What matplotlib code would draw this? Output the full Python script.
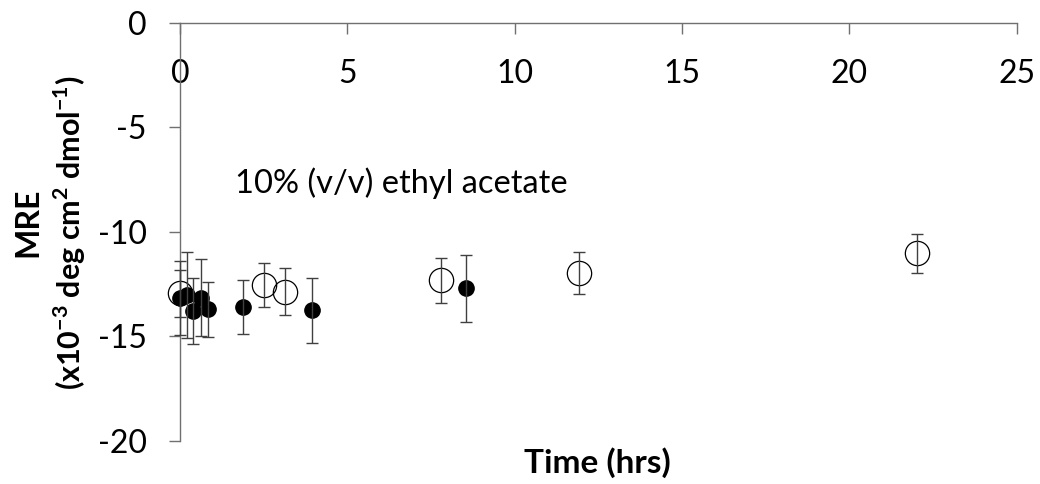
import matplotlib
matplotlib.use("Agg")
import matplotlib.pyplot as plt

# Kinetics of MRE in 10% (v/v) ethyl acetate
filled_t = [0, 0.2, 0.4, 0.62, 0.83, 1.87, 3.95, 8.54]
filled_mre = [-13.18, -13.03, -13.79, -13.15, -13.71, -13.59, -13.75, -12.71]
filled_err = [1.76, 2.06, 1.58, 1.84, 1.32, 1.28, 1.55, 1.6]

open_t = [0, 2.51, 3.14, 7.8, 11.93, 22.01]
open_mre = [-12.95, -12.55, -12.87, -12.31, -11.96, -11.03]
open_err = [1.12, 1.04, 1.13, 1.08, 1.0, 0.94]

x_ticks = [0, 5, 10, 15, 20, 25]
y_ticks = [-20, -15, -10, -5, 0]

plt.rcParams["font.family"] = "Lato"
plt.rcParams["axes.unicode_minus"] = False
plt.rcParams["mathtext.fontset"] = "custom"
plt.rcParams["mathtext.rm"] = "Lato"
plt.rcParams["mathtext.bf"] = "Lato:bold"

fig = plt.figure(figsize=(10.4, 4.84), dpi=100)
ax = fig.add_axes([0.1731, 0.0895, 0.8045, 0.863])

axis_col = "#707070"
bar_col = "#404040"

ax.plot(open_t, open_mre, "o", ms=17.5, mfc="none", mec="black", mew=0.9,
        zorder=2, clip_on=False)
ax.plot(filled_t, filled_mre, "o", ms=11, mfc="black", mec="black",
        zorder=3, clip_on=False)
ax.errorbar(open_t, open_mre, yerr=open_err, fmt="none", ecolor=bar_col,
            elinewidth=1, capsize=4, capthick=1, zorder=4, clip_on=False)
ax.errorbar(filled_t, filled_mre, yerr=filled_err, fmt="none", ecolor=bar_col,
            elinewidth=1, capsize=4, capthick=1, zorder=4, clip_on=False)

ax.set_xlim(0, 25)
ax.set_ylim(-20, 0)
ax.set_xticks(x_ticks)
ax.set_yticks(y_ticks)

ax.spines["bottom"].set_position(("data", 0))
ax.spines["top"].set_visible(False)
ax.spines["right"].set_visible(False)
for s in ("bottom", "left"):
    ax.spines[s].set_color(axis_col)
    ax.spines[s].set_linewidth(1)

ax.tick_params(axis="x", direction="out", length=8, width=1, color=axis_col,
               labelsize=23, pad=18)
ax.tick_params(axis="y", direction="out", length=8, width=1, color=axis_col,
               labelsize=23, pad=16)

ax.text(1.64, -7.66, "10% (v/v) ethyl acetate", fontsize=23.5, va="center", ha="left")

fig.text(0.574, 0.045, "Time (hrs)", fontsize=24, fontweight="bold",
         ha="center", va="center")
fig.text(0.027, 0.54, "MRE", fontsize=23, fontweight="bold", rotation=90,
         ha="center", va="center")
fig.text(0.067, 0.52,
         r"(x10$^{\mathbf{-3}}$ deg cm$^{\mathbf{2}}$ dmol$^{\mathbf{-1}}$)",
         fontsize=22, fontweight="bold", rotation=90, ha="center", va="center")

fig.savefig("out.png", dpi=100)
